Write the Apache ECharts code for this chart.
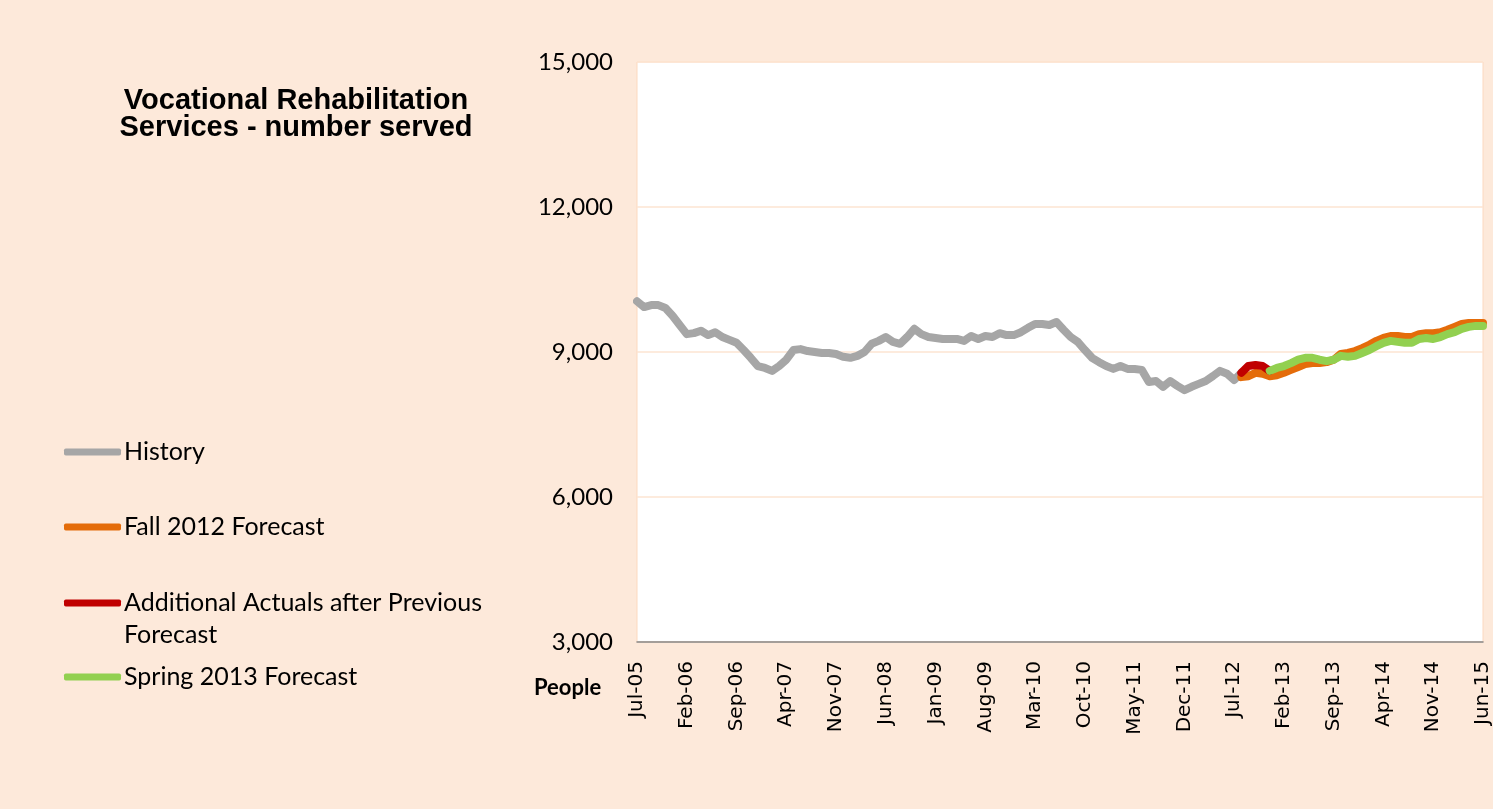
<!DOCTYPE html>
<html>
<head>
<meta charset="utf-8">
<title>Vocational Rehabilitation Services - number served</title>
<script src="https://cdn.jsdelivr.net/npm/echarts@6/dist/echarts.min.js"></script>
<style>
  html, body { margin: 0; padding: 0; background: #fde9da; }
  #chart { width: 1493px; height: 809px; }
</style>
</head>
<body>
<div id="chart"></div>
<script>
// monthly, Jul-05 .. Jun-15
const monthNames = ['Jan', 'Feb', 'Mar', 'Apr', 'May', 'Jun', 'Jul', 'Aug', 'Sep', 'Oct', 'Nov', 'Dec']
const startYear = 2005
const startMonth = 6 // Jul
const monthCount = 120

// history: Jul-05 .. Aug-12
const history = [
  10050, 9930, 9970, 9970, 9910, 9750, 9560, 9370, 9390, 9440,
  9350, 9410, 9310, 9250, 9190, 9040, 8880, 8710, 8670, 8610,
  8710, 8840, 9040, 9060, 9020, 9000, 8980, 8980, 8960, 8900,
  8880, 8920, 9000, 9170, 9230, 9310, 9210, 9170, 9310, 9480,
  9370, 9310, 9290, 9270, 9270, 9270, 9230, 9330, 9270, 9330,
  9310, 9390, 9350, 9350, 9410, 9500, 9580, 9580, 9560, 9620,
  9460, 9310, 9210, 9040, 8880, 8790, 8710, 8650, 8710, 8650,
  8650, 8630, 8380, 8400, 8280, 8400, 8300, 8210, 8280, 8340,
  8400, 8500, 8610, 8550, 8420, 8570
]

// additional actuals: Aug-12 .. Dec-12
const actualsStart = 85
const actuals = [8570, 8710, 8730, 8710, 8610]

// fall 2012 forecast: Aug-12 .. Jun-15
const fallStart = 85
const fall2012 = [
  8480, 8500, 8570, 8550, 8500, 8520, 8570, 8630, 8690, 8750,
  8770, 8770, 8790, 8840, 8960, 8980, 9020, 9080, 9150, 9230,
  9290, 9330, 9330, 9310, 9310, 9370, 9390, 9390, 9410, 9460,
  9520, 9580, 9600, 9600, 9600
]

// spring 2013 forecast: Dec-12 .. Jun-15
const springStart = 89
const spring2013 = [
  8610, 8670, 8710, 8770, 8840, 8880, 8880, 8840, 8810, 8840,
  8920, 8900, 8920, 8980, 9040, 9120, 9190, 9230, 9210, 9190,
  9190, 9270, 9290, 9270, 9310, 9370, 9410, 9480, 9520, 9540,
  9540
]

const yTicks = { min: 3000, max: 15000, interval: 3000 }

const categories = []
for (let i = 0; i < monthCount; i++) {
  const m = (startMonth + i) % 12
  const y = startYear + Math.floor((startMonth + i) / 12)
  categories.push(monthNames[m] + '-' + String(y % 100).padStart(2, '0'))
}

function place (start, values) {
  return new Array(start).fill(null).concat(values)
}

const colors = {
  history: '#a6a6a6',
  fall: '#e46c0a',
  actuals: '#c00000',
  spring: '#92d050'
}

const labelFont = 'Lato, "Open Sans", sans-serif'

function lineSeries (name, data, color, z) {
  return {
    name,
    type: 'line',
    data,
    z,
    symbol: 'none',
    connectNulls: false,
    lineStyle: { color, width: 8, cap: 'round', join: 'round' },
    itemStyle: { color },
    emphasis: { disabled: true },
    animation: false
  }
}

const legendText = { fontFamily: labelFont, fontSize: 25, color: '#000', lineHeight: 32 }

function legendItem (name, top, color, formatter) {
  const item = {
    left: 64,
    top,
    padding: 0,
    orient: 'vertical',
    data: [{ name, icon: 'roundRect', itemStyle: { color } }],
    itemWidth: 57,
    itemHeight: 7,
    itemGap: 0,
    selectedMode: false,
    textStyle: Object.assign({ padding: [0, 0, 0, -2] }, legendText)
  }
  if (formatter) item.formatter = formatter
  return item
}

const chart = echarts.init(document.getElementById('chart'))
chart.setOption({
  backgroundColor: '#fde9da',
  title: {
    text: 'Vocational Rehabilitation\nServices - number served',
    left: 296,
    top: 87,
    padding: 0,
    textAlign: 'center',
    textStyle: {
      fontFamily: '"Liberation Sans", Arial, sans-serif',
      fontSize: 29,
      fontWeight: 'bold',
      color: '#000',
      lineHeight: 27
    }
  },
  legend: [
    legendItem('History', 436, colors.history),
    legendItem('Fall 2012 Forecast', 511, colors.fall),
    // leading blank line keeps the first text line level with the icon
    legendItem('Additional Actuals after Previous Forecast', 555, colors.actuals,
      () => '\nAdditional Actuals after Previous\nForecast'),
    legendItem('Spring 2013 Forecast', 661, colors.spring)
  ],
  grid: {
    left: 637,
    right: 8,
    top: 62,
    bottom: 167,
    show: true,
    backgroundColor: '#ffffff',
    borderColor: '#fcd9bf',
    borderWidth: 1
  },
  xAxis: {
    type: 'category',
    data: categories,
    boundaryGap: false,
    axisLine: { lineStyle: { color: '#868686', width: 1.5 } },
    axisTick: { show: false },
    axisLabel: {
      interval: 6,
      rotate: 90,
      margin: 19,
      fontFamily: '"DejaVu Sans", Verdana, sans-serif',
      fontSize: 20,
      color: '#000'
    },
    splitLine: { show: false }
  },
  yAxis: {
    type: 'value',
    min: yTicks.min,
    max: yTicks.max,
    interval: yTicks.interval,
    axisLine: { show: false },
    axisTick: { show: false },
    axisLabel: {
      margin: 24,
      fontFamily: labelFont,
      fontSize: 24,
      color: '#000',
      formatter: v => v.toLocaleString('en-US')
    },
    splitLine: { lineStyle: { color: '#fde4d2', width: 1.5 } }
  },
  graphic: [{
    type: 'text',
    left: 534,
    top: 677,
    style: {
      text: 'People',
      font: 'bold 22px ' + labelFont,
      fill: '#000'
    }
  }],
  series: [
    lineSeries('History', history, colors.history, 2),
    lineSeries('Fall 2012 Forecast', place(fallStart, fall2012), colors.fall, 3),
    lineSeries('Additional Actuals after Previous Forecast', place(actualsStart, actuals), colors.actuals, 4),
    lineSeries('Spring 2013 Forecast', place(springStart, spring2013), colors.spring, 5)
  ]
})
</script>
</body>
</html>
